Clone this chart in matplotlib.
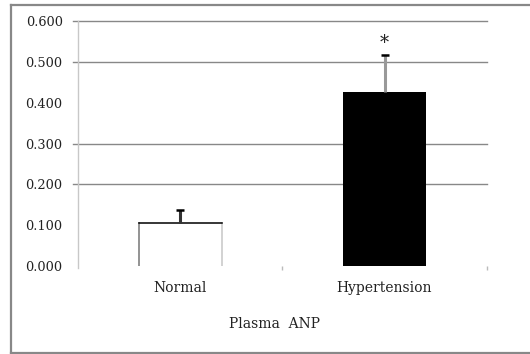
import matplotlib
matplotlib.use("Agg")
import matplotlib.pyplot as plt
from matplotlib.lines import Line2D
from matplotlib.transforms import blended_transform_factory

# Data
groups = ["Normal", "Hypertension"]
means = [0.105, 0.428]
sem = [0.033, 0.090]
bar_colors = ["white", "black"]
stem_colors = ["#333333", "#999999"]
y_ticks = [0.0, 0.1, 0.2, 0.3, 0.4, 0.5, 0.6]
grid_levels = [0.2, 0.3, 0.5, 0.6]
significance = ["", "*"]
x_title = "Plasma  ANP"

W, H, DPI = 530, 354, 100
fig = plt.figure(figsize=(W / DPI, H / DPI), dpi=DPI)
fig.patch.set_facecolor("white")

# open frame around the chart (left, top and bottom edges)
fl, ft, fb = 11 / W, 1 - 5 / H, 1.5 / H
for xs, ys in [([fl, fl], [fb, ft]), ([fl, 1.02], [ft, ft]), ([fl, 1.02], [fb, fb])]:
    fig.lines.append(Line2D(xs, ys, transform=fig.transFigure,
                            color="#888888", linewidth=1.6))

ax = fig.add_axes([78 / W, 88 / H, 408.7 / W, 244.5 / H])
font = "DejaVu Serif"
x = list(range(len(groups)))

ax.set_xlim(-0.5, len(groups) - 0.5)
ax.set_ylim(0, 0.6)

# horizontal guide lines, extending a little left of the axis
gtrans = blended_transform_factory(ax.transAxes, ax.transData)
for g in grid_levels:
    ax.plot([-0.013, 1.0], [g, g], transform=gtrans, color="#888888",
            linewidth=1.0, clip_on=False, zorder=1)

bars = ax.bar(x, means, width=0.405, color=bar_colors, edgecolor="none", zorder=2)

# outline of the open (white) bar
r = bars[0]
x0, x1, top = r.get_x(), r.get_x() + r.get_width(), r.get_height()
ax.plot([x0, x0], [0, top], color="#8a8a8a", linewidth=1.3, zorder=3)
ax.plot([x1, x1], [0, top], color="#cfcfcf", linewidth=1.3, zorder=3)
ax.plot([x0, x1], [top, top], color="black", linewidth=1.1, zorder=3)

# upward error bars
for xi, m, e, c in zip(x, means, sem, stem_colors):
    ax.vlines(xi, m, m + e, color=c, linewidth=2.2, zorder=4)
    ax.plot([xi], [m + e], marker="_", markersize=6, markeredgewidth=1.8,
            color="black", zorder=5)

# significance markers
for xi, m, e, s in zip(x, means, sem, significance):
    if s:
        ax.annotate(s, (xi, m + e), xytext=(0, 2), textcoords="offset points",
                    ha="center", va="bottom", fontsize=13, family=font, color="#222222")

# axes styling
for side in ["top", "right", "bottom"]:
    ax.spines[side].set_visible(False)
ax.spines["left"].set_color("#c8c8c8")
ax.spines["left"].set_linewidth(1.0)
ax.spines["left"].set_bounds(-0.006, 0.6)

ax.set_yticks(y_ticks)
ax.set_yticklabels([f"{v:.3f}" for v in y_ticks], fontsize=9.3, family=font, color="#222222")
ax.tick_params(axis="y", length=0, pad=11)

ax.set_xticks(x)
ax.set_xticklabels(groups, fontsize=10, family=font, color="#222222")
ax.tick_params(axis="x", length=0, pad=11)
ax.set_xticks([xi + 0.5 for xi in x], minor=True)
ax.tick_params(axis="x", which="minor", length=3, color="#bbbbbb", width=1)

ax.set_xlabel(x_title, fontsize=10, family=font, color="#222222")
ax.xaxis.set_label_coords(0.482, -0.21)

fig.savefig("out.png", dpi=DPI)
